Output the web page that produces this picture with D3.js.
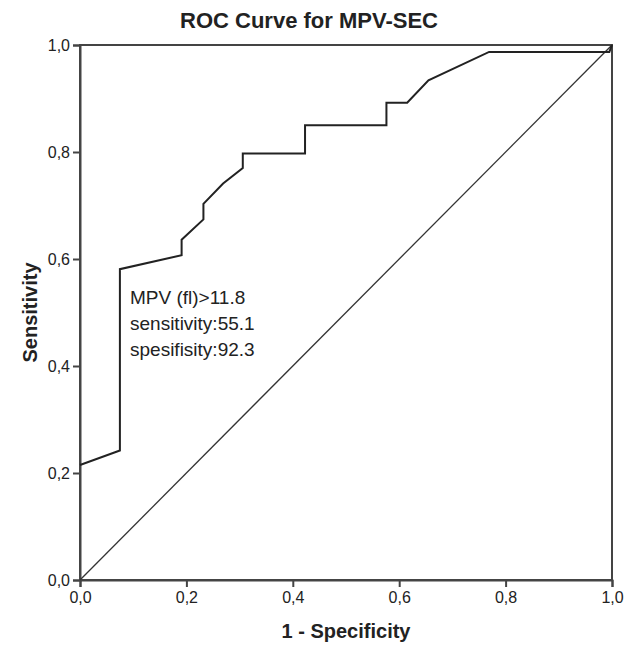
<!DOCTYPE html>
<html>
<head>
<meta charset="utf-8">
<script src="https://d3js.org/d3.v7.min.js"></script>
<style>
  body { margin: 0; background: #fff; }
  svg text { font-family: "Liberation Sans", Arial, sans-serif; fill: #222; }
</style>
</head>
<body>
<svg id="chart" width="632" height="645"></svg>
<script>
// ROC points (1 - specificity, sensitivity)
var fpr  = [0, 0.075, 0.075, 0.191, 0.191, 0.232, 0.232, 0.269, 0.306, 0.306, 0.423, 0.423, 0.576, 0.576, 0.615, 0.655, 0.769, 0.995, 1];
var sens = [0.215, 0.242, 0.581, 0.607, 0.636, 0.674, 0.703, 0.741, 0.770, 0.797, 0.797, 0.850, 0.850, 0.892, 0.892, 0.934, 0.987, 0.987, 1];
var tickVals = [0, 0.2, 0.4, 0.6, 0.8, 1.0];
var tickLabels = ['0,0', '0,2', '0,4', '0,6', '0,8', '1,0'];
var noteLines = ['MPV (fl)>11.8', 'sensitivity:55.1', 'spesifisity:92.3'];

var svg = d3.select('#chart');
var x = d3.scaleLinear().domain([0, 1]).range([80, 612]);
var y = d3.scaleLinear().domain([0, 1]).range([580, 45]);

// frame
svg.append('rect')
  .attr('x', x(0)).attr('y', y(1))
  .attr('width', x(1) - x(0)).attr('height', y(0) - y(1))
  .attr('fill', 'none').attr('stroke', '#444').attr('stroke-width', 2);

// axes
var fmt = function(d) { return tickLabels[tickVals.indexOf(d)]; };
var xAxis = svg.append('g')
  .attr('transform', 'translate(0,' + y(0) + ')')
  .call(d3.axisBottom(x).tickValues(tickVals).tickFormat(fmt).tickSize(7).tickPadding(5));
var yAxis = svg.append('g')
  .attr('transform', 'translate(' + x(0) + ',0)')
  .call(d3.axisLeft(y).tickValues(tickVals).tickFormat(fmt).tickSize(7).tickPadding(3));
[xAxis, yAxis].forEach(function(g) {
  g.select('.domain').attr('stroke', '#444').attr('stroke-width', 2);
  g.selectAll('.tick line').attr('stroke', '#444').attr('stroke-width', 2);
  g.selectAll('.tick text').attr('font-size', 16).attr('fill', '#333')
    .attr('font-family', '"Liberation Sans", Arial, sans-serif');
});

// reference diagonal
svg.append('line')
  .attr('x1', x(0)).attr('y1', y(0)).attr('x2', x(1)).attr('y2', y(1))
  .attr('stroke', '#333').attr('stroke-width', 1.3);

// ROC curve
var line = d3.line().x(function(d) { return x(d[0]); }).y(function(d) { return y(d[1]); });
svg.append('path')
  .datum(d3.zip(fpr, sens))
  .attr('d', line)
  .attr('fill', 'none').attr('stroke', '#222').attr('stroke-width', 2);

// annotation
svg.append('g').selectAll('text')
  .data(noteLines).enter().append('text')
  .attr('x', 130)
  .attr('y', function(d, i) { return 304 + i * 26; })
  .attr('font-size', 19)
  .attr('fill', '#333')
  .text(function(d) { return d; });

// titles
svg.append('text')
  .attr('x', 309).attr('y', 28)
  .attr('text-anchor', 'middle')
  .attr('font-size', 22).attr('font-weight', 'bold')
  .text('ROC Curve for MPV-SEC');
svg.append('text')
  .attr('x', 346).attr('y', 638)
  .attr('text-anchor', 'middle')
  .attr('font-size', 20).attr('font-weight', 'bold')
  .text('1 - Specificity');
svg.append('text')
  .attr('transform', 'translate(37,' + ((y(0) + y(1)) / 2) + ') rotate(-90)')
  .attr('text-anchor', 'middle')
  .attr('font-size', 20).attr('font-weight', 'bold')
  .text('Sensitivity');
</script>
</body>
</html>
